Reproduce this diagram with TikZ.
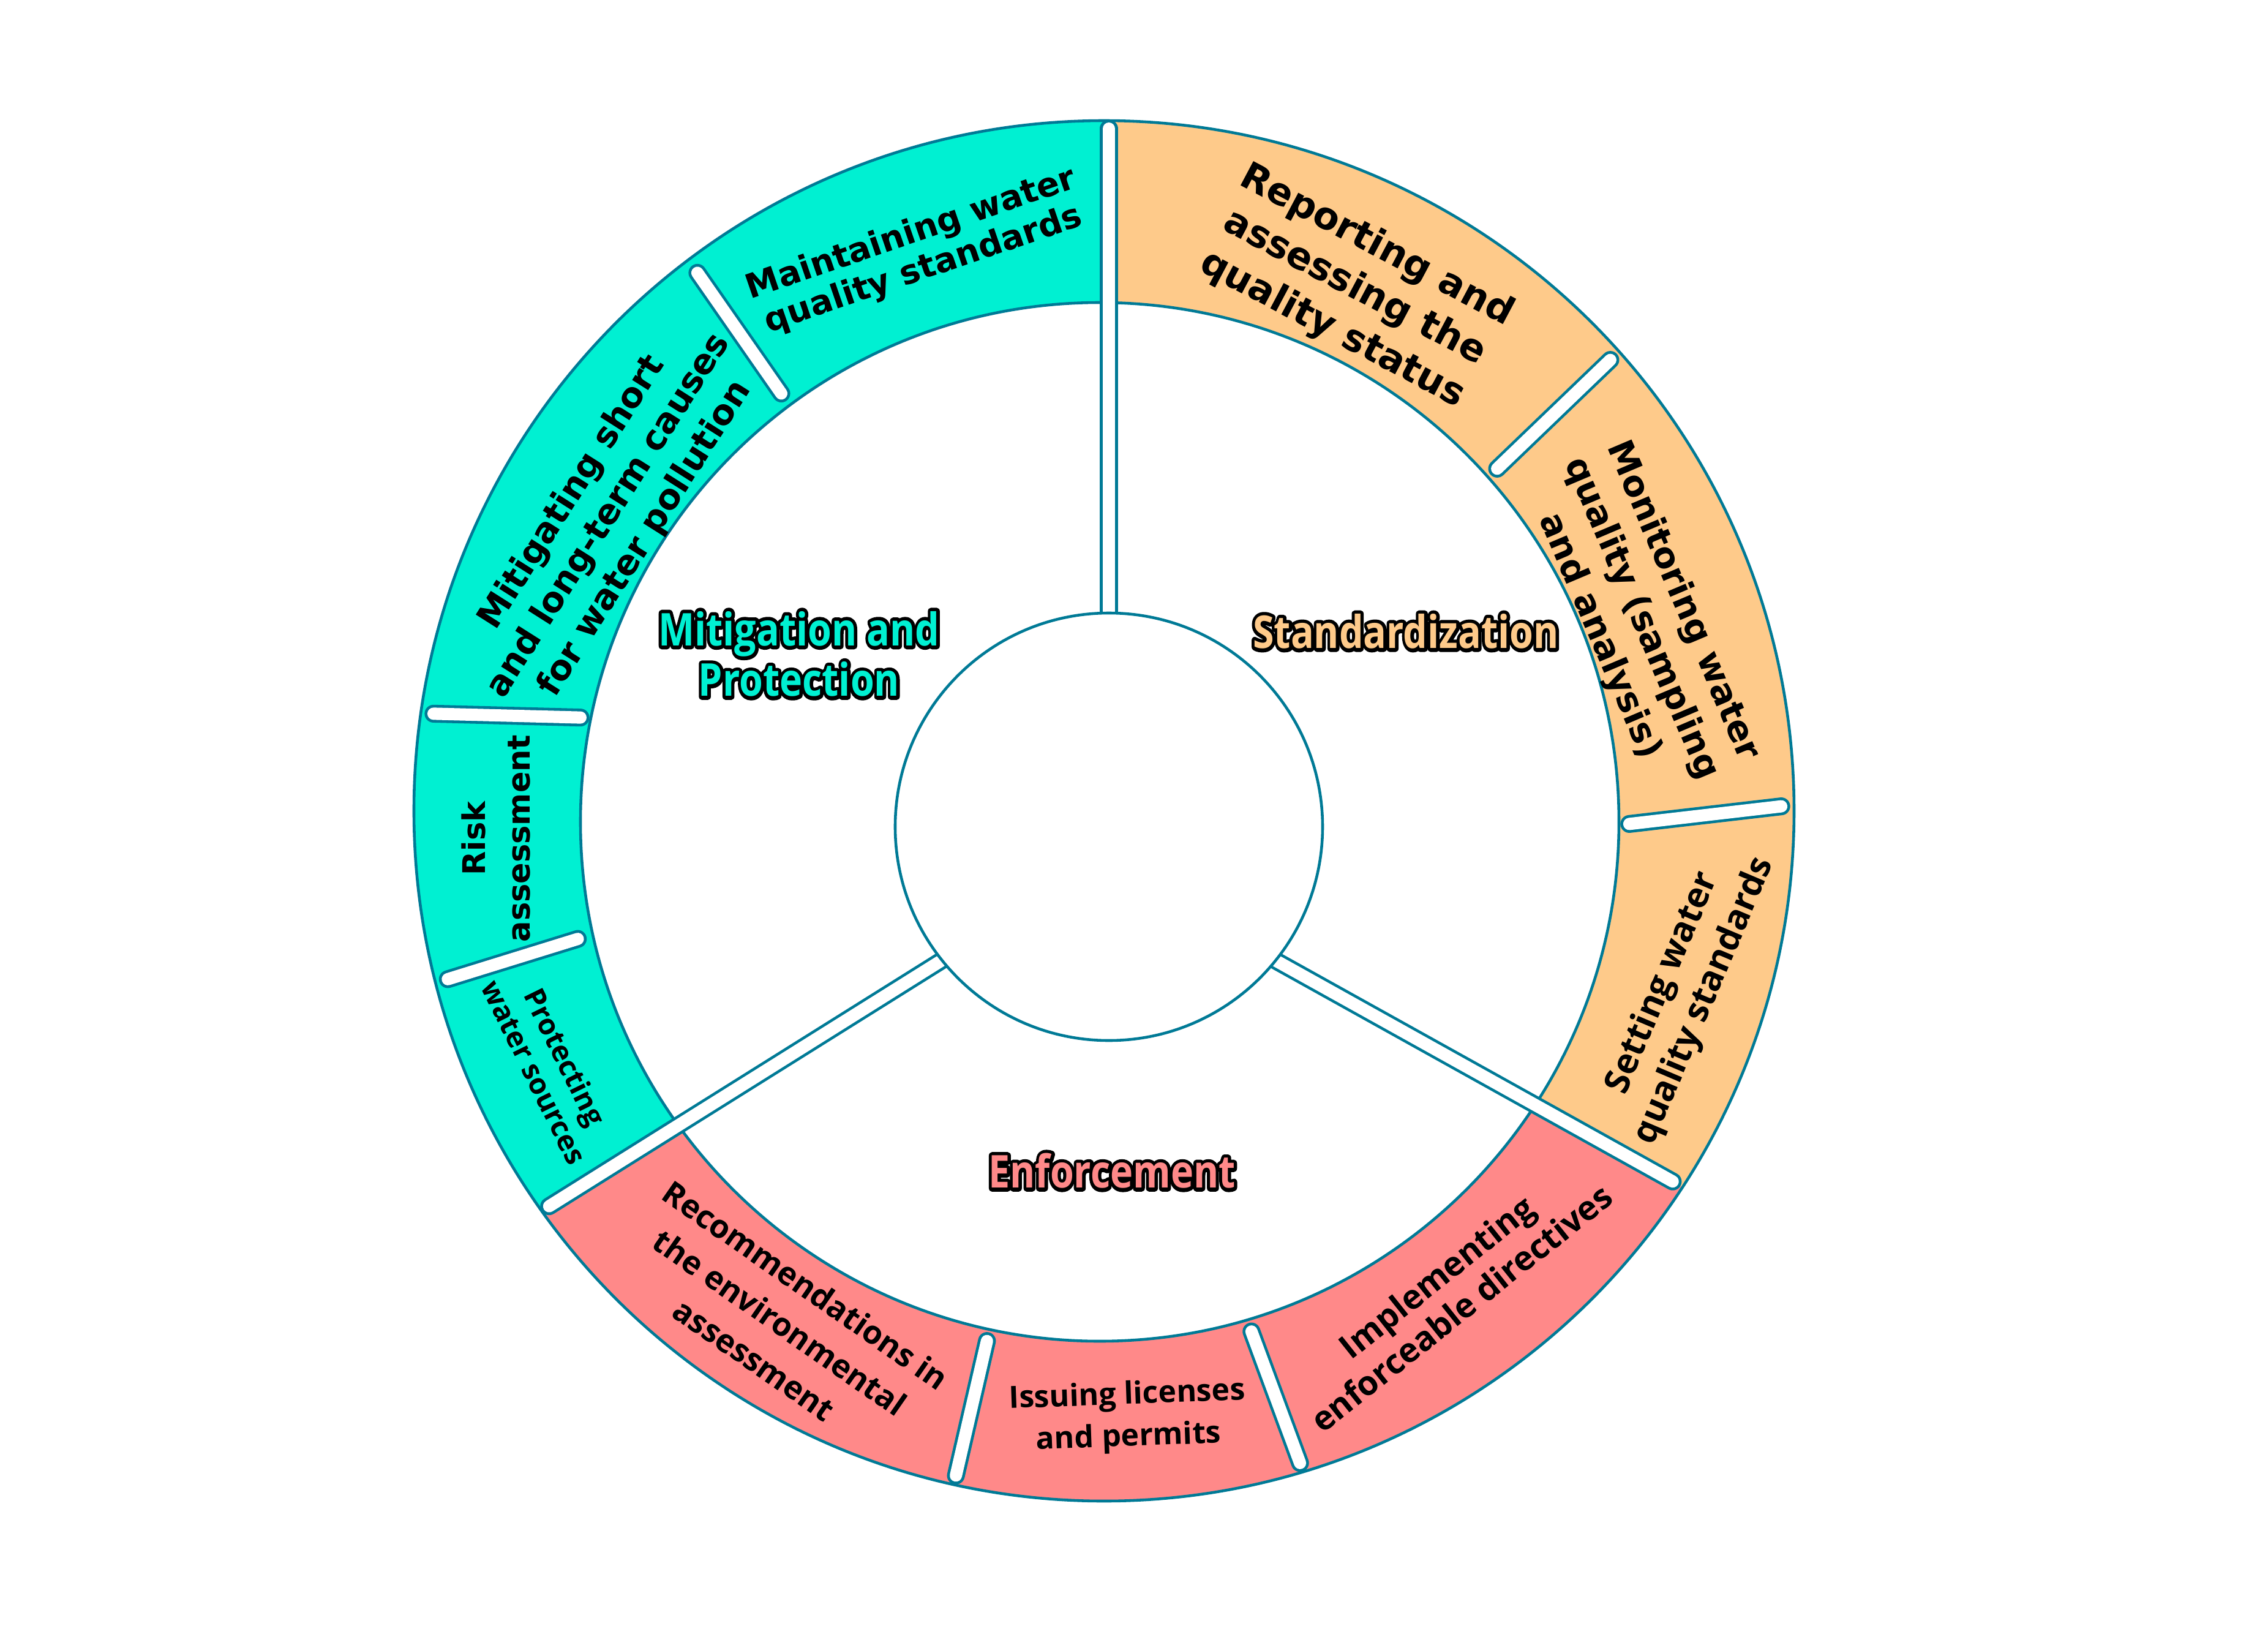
\documentclass[tikz,border=0pt]{standalone}
\usepackage{graphicx}
\usepackage{fontspec}
\setmainfont{Open Sans}
\newfontfamily\wideface{DejaVu Sans}
\usetikzlibrary{calc}

\definecolor{ringedge}{HTML}{007A96}
\definecolor{mitfill}{HTML}{00F0D2}
\definecolor{stdfill}{HTML}{FECA8A}
\definecolor{enffill}{HTML}{FF8989}

% outlined heading text: a stroked copy under the filled one
\newcommand{\halo}[2]{%
  \leavevmode\rlap{\color{black}\special{pdf:literal direct 1 Tr 3.4 w 1 j 0 0 0 RG}%
    \scalebox{0.85}[1]{#2}\special{pdf:literal direct 0 Tr}}%
  {\color{#1}\scalebox{0.85}[1]{#2}}}

\begin{document}
\begin{tikzpicture}[
    edge/.style={draw=ringedge, line width=1.3pt},
    gapbar/.style={draw=ringedge, line width=1.3pt, double=white, double distance=0.2cm, line cap=round},
    ring/.style 2 args={align=center, inner sep=0pt, text=black, font=\bfseries\fontsize{#1}{#2}\selectfont},
    widering/.style 2 args={align=center, inner sep=0pt, text=black, font=\wideface\bfseries\fontsize{#1}{#2}\selectfont},
    catlabel/.style={align=center, inner sep=0pt, font=\bfseries\fontsize{21}{23.5}\selectfont}
  ]
    \useasboundingbox (-18.11,-13.22) rectangle (18.93,13.50);

    % Centres of the two ring circles
    \coordinate (oc) at (-0.08,0.26);
    \coordinate (ic) at (-0.15,0.08);

    % Fill the three coloured bands
    \foreach \col/\a/\b/\c/\d in {mitfill/89.6/215.4/215.7/89, enffill/215.4/326.96/327/215.7, stdfill/326.96/449.6/449/327}
        \fill[\col] ($(oc)+(\a:11.27)$) arc[start angle=\a, end angle=\b, radius=11.27]
            -- ($(ic)+(\c:8.48)$) arc[start angle=\c, end angle=\d, radius=8.48] -- cycle;

    % Ring outlines
    \draw[edge] (oc) circle[radius=11.27];
    \draw[edge] (ic) circle[radius=8.48];

    % Spokes between the three groups
    \foreach \name/\ix/\iy/\ox/\oy in {spoke-n/0/2.8/0/11.54, spoke-sw/-2.20/-1.85/-9.26/-6.27, spoke-se/2.23/-1.91/9.33/-5.86} {
        \coordinate (\name-in) at (\ix,\iy);
        \coordinate (\name-out) at (\ox,\oy);
        \draw[gapbar, shorten >=0.14cm] (\name-in) -- (\name-out);
    }

    % Short bars between the items of a group
    \foreach \name/\ox/\oy/\ix/\iy in {bar1/-6.80/9.16/-5.27/6.96, bar2/-11.17/1.85/-8.49/1.78,
        bar3/-10.93/-2.53/-8.54/-1.79, bar4/8.29/7.72/6.24/5.75, bar5/11.12/0.35/8.36/0.03,
        bar6/-2.53/-10.73/-1.96/-8.26, bar7/3.17/-10.52/2.28/-8.11} {
        \coordinate (\name-out) at (\ox,\oy);
        \coordinate (\name-in) at (\ix,\iy);
        \draw[gapbar, shorten >=0.14cm, shorten <=0.14cm] (\name-out) -- (\name-in);
    }

    % Hub
    \node (hub) [circle, draw=ringedge, line width=1.3pt, fill=white, minimum size=6.98cm, inner sep=0pt] at (0,0) {};

    % Items of Mitigation and Protection
    \node (maintain) [widering={15.6}{17.5}, rotate=18.9] at (-3.13,9.38) {Maintaining water\\quality standards};
    \node (mitigate) [widering={16.1}{20}, rotate=57.6] at (-8.17,5.08) {Mitigating short\\and long-term causes\\for water pollution};
    \node (risk) [widering={14.5}{20.5}, rotate=90] at (-10.01,-0.19) {Risk\\assessment};
    \node (protect) [ring={13.3}{16}, rotate=-63.8] at (-9.13,-3.88) {Protecting\\water sources};

    % Items of Standardization
    \node (report) [widering={17.5}{22}, rotate=-27.9] at (4.01,8.80) {Reporting and\\assessing the\\quality status};
    \node (monitor) [widering={16.3}{21}, rotate=-67] at (8.69,3.40) {Monitoring water\\quality (sampling\\and analysis)};
    \node (setting) [ring={16.3}{21}, rotate=67] at (9.39,-2.70) {Setting water\\quality standards};

    % Items of Enforcement
    \node (recommend) [ring={14.9}{21}, rotate=-34.8] at (-5.37,-8.09) {Recommendations in\\the environmental\\assessment};
    \node (issue) [ring={14.2}{19.5}, rotate=2] at (0.31,-9.64) {Issuing licenses\\and permits};
    \node (implement) [ring={15.7}{18.5}, rotate=38.5] at (5.55,-7.60) {Implementing\\enforceable directives};

    % Group headings
    \node (mitlabel) [catlabel] at (-5.06,2.82) {\halo{mitfill}{Mitigation and}\\\halo{mitfill}{Protection}};
    \node (stdlabel) [catlabel] at (4.85,3.19) {\halo{stdfill}{Standardization}};
    \node (enflabel) [catlabel] at (0.05,-5.62) {\halo{enffill}{Enforcement}};
\end{tikzpicture}
\end{document}
